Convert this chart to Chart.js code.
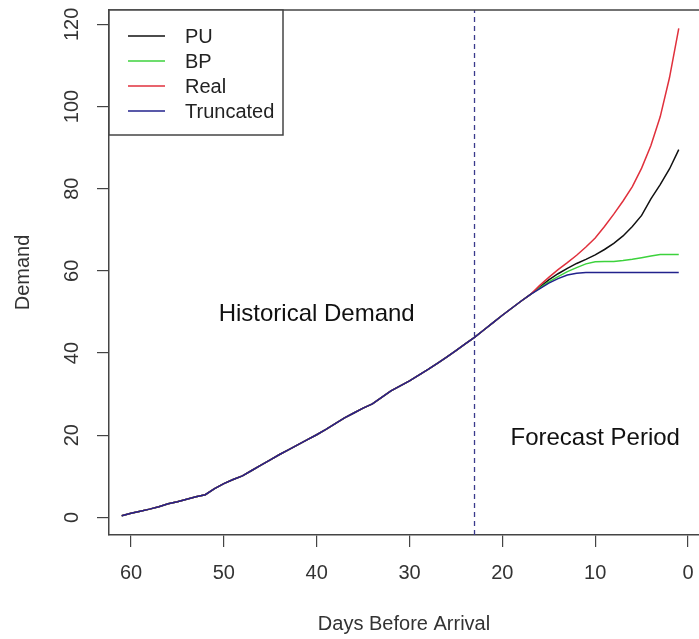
<!DOCTYPE html>
<html>
<head>
<meta charset="utf-8">
<script src="https://cdn.jsdelivr.net/npm/chart.js@4.4.0/dist/chart.umd.min.js"></script>
<style>
  html, body { margin: 0; padding: 0; background: #fff; }
  #wrap { width: 699px; height: 639px; }
</style>
</head>
<body>
<div id="wrap"><canvas id="demand-chart" width="699" height="639"></canvas></div>
<script>
// Jours avant l'arrivée (axe x, lu de droite à gauche)
const days = [61, 60, 59, 58, 57, 56, 55, 54, 53, 52,
              51, 50, 49, 48, 47, 46, 45, 44, 43, 42,
              41, 40, 39, 38, 37, 36, 35, 34, 33, 32,
              31, 30, 29, 28, 27, 26, 25, 24, 23, 22,
              21, 20, 19, 18, 17, 16, 15, 14, 13, 12,
              11, 10, 9, 8, 7, 6, 5, 4, 3, 2, 1];

// Demande commune (jours 61 à 18)
const historyDemand = [0.4, 1.0, 1.5, 2.0, 2.6, 3.3, 3.8, 4.4, 5.0, 5.5,
                       7.0, 8.2, 9.2, 10.1, 11.4, 12.7, 14.0, 15.3, 16.5, 17.7,
                       18.9, 20.1, 21.4, 22.8, 24.2, 25.4, 26.6, 27.6, 29.2, 30.8,
                       32.0, 33.2, 34.6, 36.0, 37.5, 39.0, 40.6, 42.2, 43.8, 45.6,
                       47.4, 49.2, 50.9, 52.6];

// Prévisions (jours 17 à 1)
const puForecast = [54.2, 56.0, 57.8, 59.3, 60.6, 61.8, 62.8, 63.9, 65.2, 66.7, 68.5, 70.8, 73.5, 77.5, 81.0, 84.8, 89.5];
const bpForecast = [54.2, 55.8, 57.3, 58.6, 59.8, 60.8, 61.7, 62.2, 62.3, 62.3, 62.5, 62.8, 63.2, 63.6, 64.0, 64.0, 64.0];
const realForecast = [54.2, 56.4, 58.4, 60.3, 62.0, 63.8, 65.8, 68.0, 70.8, 73.8, 77.0, 80.5, 85.0, 90.5, 97.5, 107.0, 119.0];
const truncForecast = [54.2, 55.6, 57.0, 58.1, 59.0, 59.4, 59.6, 59.6, 59.6, 59.6, 59.6, 59.6, 59.6, 59.6, 59.6, 59.6, 59.6];

const seriesNames = ['PU', 'BP', 'Real', 'Truncated'];
const xTicks = [0, 10, 20, 30, 40, 50, 60];
const yTicks = [0, 20, 40, 60, 80, 100, 120];
const cutoffDay = 23;

const noteText = ['Historical Demand', 'Forecast Period'];
const noteDay = [40, 10];
const noteDemand = [49.3, 19.1];

// limites des axes
const X_MIN = -1.18, X_MAX = 62.37;
const Y_MIN = -4.3, Y_MAX = 123.5;

const FONT = '"Liberation Sans", Arial, sans-serif';
Chart.defaults.font.family = FONT;
Chart.defaults.color = '#333';

function toPoints(forecast) {
    return historyDemand.concat(forecast).map((v, i) => ({ x: days[i], y: v }));
}

function serie(label, forecast, color, order) {
    return {
        label: label,
        data: toPoints(forecast),
        borderColor: color,
        backgroundColor: color,
        borderWidth: 1.5,
        pointRadius: 0,
        tension: 0,
        fill: false,
        order: order
    };
}

// cadre haut, légende et annotations
const framePlugin = {
    id: 'framePlugin',
    afterDatasetsDraw(chart) {
        const { ctx, chartArea: a, scales } = chart;
        ctx.save();
        ctx.strokeStyle = '#444';
        ctx.lineWidth = 1.5;
        ctx.beginPath();
        ctx.moveTo(a.left, a.top);
        ctx.lineTo(a.right, a.top);
        ctx.stroke();

        ctx.fillStyle = '#111';
        ctx.font = '24px ' + FONT;
        ctx.textAlign = 'center';
        ctx.textBaseline = 'middle';
        noteText.forEach((t, i) => {
            ctx.fillText(t, scales.x.getPixelForValue(noteDay[i]), scales.y.getPixelForValue(noteDemand[i]));
        });

        // légende en haut à gauche
        const items = chart.data.datasets.filter(d => seriesNames.includes(d.label));
        const bx = a.left, by = a.top, bw = 174, bh = 125;
        ctx.fillStyle = '#fff';
        ctx.fillRect(bx, by, bw, bh);
        ctx.strokeStyle = '#444';
        ctx.lineWidth = 1.5;
        ctx.strokeRect(bx, by, bw, bh);
        ctx.font = '20px ' + FONT;
        ctx.textAlign = 'left';
        items.forEach((d, i) => {
            const ry = by + 26 + i * 25;
            ctx.strokeStyle = d.borderColor;
            ctx.lineWidth = 1.5;
            ctx.beginPath();
            ctx.moveTo(bx + 19, ry);
            ctx.lineTo(bx + 56, ry);
            ctx.stroke();
            ctx.fillStyle = '#222';
            ctx.fillText(d.label, bx + 76, ry + 1);
        });
        ctx.restore();
    }
};

const axisGrid = { drawOnChartArea: false, drawTicks: true, tickLength: 12, tickColor: '#444', lineWidth: 1.2 };
const axisBorder = { display: true, color: '#444', width: 1.5 };

new Chart(document.getElementById('demand-chart'), {
    type: 'line',
    data: {
        datasets: [
            serie(seriesNames[0], puForecast, '#111111', 3),
            serie(seriesNames[1], bpForecast, '#3cd23c', 2),
            serie(seriesNames[2], realForecast, '#e0303c', 1),
            serie(seriesNames[3], truncForecast, '#22228c', 0),
            {
                label: '',
                data: [{ x: cutoffDay, y: Y_MIN }, { x: cutoffDay, y: Y_MAX }],
                borderColor: '#3a3a8c',
                borderWidth: 1.3,
                borderDash: [5, 4],
                pointRadius: 0,
                fill: false,
                order: 4
            }
        ]
    },
    options: {
        responsive: false,
        devicePixelRatio: 1,
        animation: false,
        layout: { padding: { top: 10, right: 0, bottom: 0, left: 0 } },
        plugins: {
            legend: { display: false },
            tooltip: { enabled: false }
        },
        scales: {
            x: {
                type: 'linear',
                reverse: true,
                min: X_MIN,
                max: X_MAX,
                afterBuildTicks: s => { s.ticks = xTicks.map(v => ({ value: v })); },
                afterFit: s => { s.height = 104; s.paddingLeft = 0; s.paddingRight = 0; },
                grid: axisGrid,
                border: axisBorder,
                ticks: {
                    padding: 14,
                    color: '#333',
                    font: { size: 20 },
                    maxRotation: 0,
                    autoSkip: false,
                    callback: v => String(v)
                },
                title: {
                    display: true,
                    text: 'Days Before Arrival',
                    color: '#333',
                    font: { size: 20 },
                    padding: { top: 0, bottom: 3 }
                }
            },
            y: {
                type: 'linear',
                min: Y_MIN,
                max: Y_MAX,
                afterBuildTicks: s => { s.ticks = yTicks.map(v => ({ value: v })); },
                afterFit: s => { s.width = 109; s.paddingTop = 0; s.paddingBottom = 0; },
                grid: axisGrid,
                border: axisBorder,
                ticks: {
                    padding: 8,
                    color: '#333',
                    font: { size: 20 },
                    minRotation: 90,
                    maxRotation: 90,
                    crossAlign: 'center',
                    autoSkip: false,
                    callback: v => String(v)
                },
                title: {
                    display: true,
                    text: 'Demand',
                    color: '#333',
                    font: { size: 20 },
                    padding: { top: 11, bottom: 0 }
                }
            }
        }
    },
    plugins: [framePlugin]
});
</script>
</body>
</html>
